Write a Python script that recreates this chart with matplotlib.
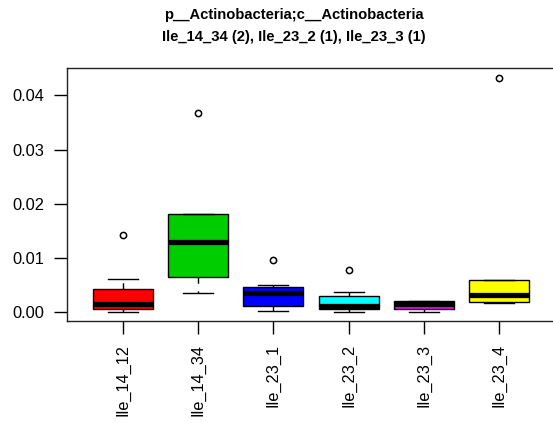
import matplotlib
matplotlib.use("Agg")
import matplotlib.pyplot as plt

plt.rcParams['font.family'] = ['Liberation Sans', 'DejaVu Sans']

categories = ["Ile_14_12", "Ile_14_34", "Ile_23_1", "Ile_23_2", "Ile_23_3", "Ile_23_4"]
whislo = [0.0000, 0.0035, 0.00018, 0.0000, 0.0000, 0.00166]
q1 = [0.0007, 0.00646, 0.00125, 0.00055, 0.00055, 0.00185]
med = [0.0015, 0.0129, 0.0035, 0.0012, 0.00153, 0.0032]
q3 = [0.0043, 0.0182, 0.0046, 0.0030, 0.00214, 0.0059]
whishi = [0.00614, 0.0182, 0.00504, 0.00375, 0.00214, 0.0059]
outliers = [[0.01426], [0.03677], [0.0097], [0.0078], [], [0.0432]]
colors = ["#FF0000", "#00CD00", "#0000FF", "#00FFFF", "#FF00FF", "#FFFF00"]
title = "p__Actinobacteria;c__Actinobacteria\nIle_14_34 (2), Ile_23_2 (1), Ile_23_3 (1)"

stats = []
for i, c in enumerate(categories):
    stats.append(dict(label=c, whislo=whislo[i], q1=q1[i], med=med[i], q3=q3[i],
                      whishi=whishi[i], fliers=outliers[i]))

fig = plt.figure(figsize=(5.53, 4.23), dpi=100)
ax = fig.add_axes([67 / 553, 1 - 320.7 / 423, (555 - 67) / 553, (320.7 - 68.5) / 423])

bp = ax.bxp(stats, positions=range(1, 7), widths=0.8, patch_artist=True,
            boxprops=dict(linewidth=1.0, edgecolor='black'),
            medianprops=dict(color='black', linewidth=3.8, solid_capstyle='butt'),
            whiskerprops=dict(color='black', linewidth=1.0, linestyle=(0, (4.5, 5.5))),
            capprops=dict(color='black', linewidth=1.0),
            capwidths=0.4,
            flierprops=dict(marker='o', markerfacecolor='none', markeredgecolor='black',
                            markersize=4.5, markeredgewidth=1.1))
for patch, col in zip(bp['boxes'], colors):
    patch.set_facecolor(col)

ax.set_xlim(0.26, 6.74)
ax.set_ylim(-0.00155, 0.04498)
ax.set_yticks([0.0, 0.01, 0.02, 0.03, 0.04])
ax.set_yticklabels(["0.00", "0.01", "0.02", "0.03", "0.04"])
ax.set_xticks(range(1, 7))
ax.set_xticklabels(categories, rotation=90, va='top')
ax.tick_params(axis='both', labelsize=11.8, length=9.5, width=1.0, pad=7, colors='black')
for s in ax.spines.values():
    s.set_linewidth(1.0)
    s.set_color('#222222')

fig.text(294 / 553, 1 - 26 / 423, title, ha='center', va='center', fontsize=10.6,
         fontweight='bold', linespacing=1.65)

fig.savefig("out.png", dpi=100)
